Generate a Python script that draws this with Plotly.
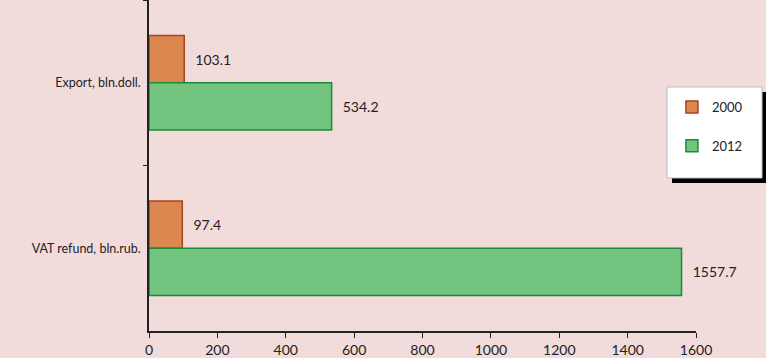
import plotly.graph_objects as go

categories = ["Export, bln.doll.", "VAT refund, bln.rub."]
values_2000 = [103.1, 97.4]
values_2012 = [534.2, 1557.7]
series_names = ["2000", "2012"]
x_ticks = [0, 200, 400, 600, 800, 1000, 1200, 1400, 1600]

FONT = "Lato, 'Open Sans', sans-serif"
BG = "#F2DCDB"

fig = go.Figure()
fig.add_trace(go.Bar(
    y=categories, x=values_2000, name=series_names[0], orientation="h",
    marker=dict(color="#DC8650", line=dict(color="#A8441C", width=1.5)),
    text=["\u2007" + f"{v}" for v in values_2000], textposition="outside",
    textfont=dict(size=14, color="#222", family=FONT), cliponaxis=False,
    legendgroup="a",
))
fig.add_trace(go.Bar(
    y=categories, x=values_2012, name=series_names[1], orientation="h",
    marker=dict(color="#72C47F", line=dict(color="#1C8A3A", width=1.5)),
    text=["\u2007" + f"{v}" for v in values_2012], textposition="outside",
    textfont=dict(size=14, color="#222", family=FONT), cliponaxis=False,
    legendgroup="b",
))

fig.update_layout(
    width=766, height=358,
    margin=dict(l=149, r=70, t=0, b=27, autoexpand=False),
    paper_bgcolor=BG, plot_bgcolor=BG,
    barmode="group", bargap=0.43, bargroupgap=0,
    font=dict(family=FONT, size=13, color="#222"),
    showlegend=True,
    legend=dict(
        x=0.956, y=0.722, xanchor="left", yanchor="top",
        bgcolor="rgba(0,0,0,0)", borderwidth=0,
        traceorder="grouped", tracegroupgap=19,
        font=dict(size=13, family=FONT, color="#222"),
    ),
    xaxis=dict(
        range=[0, 1600], tickvals=x_ticks, ticks="outside", ticklen=5,
        tickcolor="#222", showline=True, linecolor="#222", linewidth=1.5,
        showgrid=False, zeroline=False, tickfont=dict(size=14),
        automargin=False,
    ),
    yaxis=dict(
        autorange="reversed", type="category", tickson="boundaries",
        ticks="outside", ticklen=4, tickcolor="#222",
        showline=True, linecolor="#222", linewidth=1.5, showgrid=False,
        tickfont=dict(size=12.5), ticklabelstandoff=4, automargin=False,
    ),
    shapes=[
        dict(type="rect", xref="paper", yref="paper",
             x0=0.9561, x1=1.1298, y0=0.4471, y1=0.7221,
             fillcolor="black", line=dict(width=0), layer="above"),
        dict(type="rect", xref="paper", yref="paper",
             x0=0.947, x1=1.1207, y0=0.4622, y1=0.7372,
             fillcolor="white", line=dict(width=1, color="#BBBBBB"), layer="above"),
    ],
)

fig.write_html(
    "out.html",
    config={"displayModeBar": False},
    post_script="document.body.style.margin='0';document.body.style.overflow='hidden';",
)
